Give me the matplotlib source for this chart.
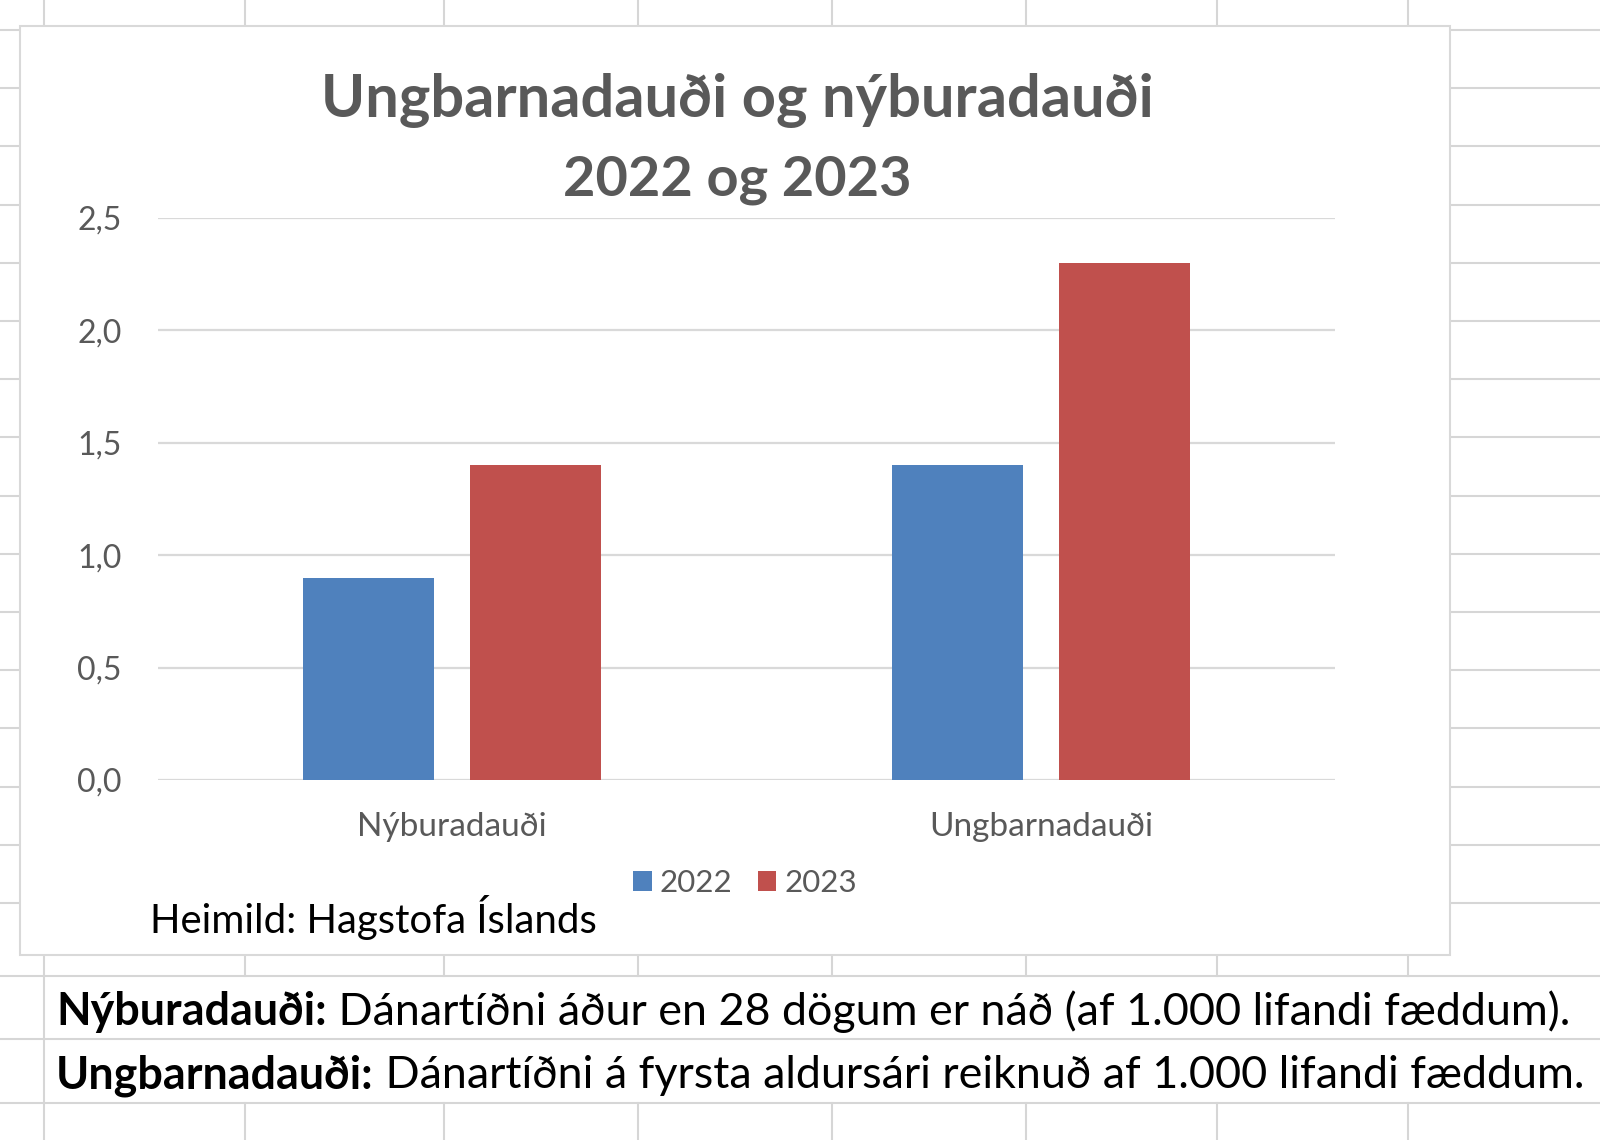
import numpy as np
import matplotlib
matplotlib.use('Agg')
import matplotlib.pyplot as plt
from matplotlib.patches import Rectangle

plt.rcParams['font.family'] = ['Lato', 'DejaVu Sans']

# data
categories = ['Nýburadauði', 'Ungbarnadauði']
years = ['2022', '2023']
values_2022 = [0.9, 1.4]
values_2023 = [1.4, 2.3]
yticks = [0.0, 0.5, 1.0, 1.5, 2.0, 2.5]
ytick_labels = ['0,0', '0,5', '1,0', '1,5', '2,0', '2,5']
bar_colors = ['#4F81BD', '#C0504D']
title_lines = ['Ungbarnadauði og nýburadauði', '2022 og 2023']
source = 'Heimild: Hagstofa Íslands'
note_terms = ['Nýburadauði:', 'Ungbarnadauði:']
note_texts = [' Dánartíðni áður en 28 dögum er náð (af 1.000 lifandi fæddum).',
              ' Dánartíðni á fyrsta aldursári reiknuð af 1.000 lifandi fæddum.']

W, H = 1600, 1140
fig = plt.figure(figsize=(16, 11.4), dpi=100)
fig.patch.set_facecolor('white')

# background "spreadsheet" in pixel coords
bg = fig.add_axes([0, 0, 1, 1])
bg.set_xlim(0, W)
bg.set_ylim(H, 0)
bg.axis('off')

cell_c = '#d6d6d6'
row_lines = list(30 + 58.2 * np.arange(16)) + [976, 1039, 1103]
col_lines = [44, 245, 444, 638, 832, 1026, 1217, 1408]
for y in row_lines:
    bg.plot([0, W], [y, y], color=cell_c, lw=1.5, zorder=1)
for x in col_lines:
    if x == 44:
        bg.plot([x, x], [0, H], color=cell_c, lw=1.5, zorder=1)
    else:
        bg.plot([x, x], [0, 976], color=cell_c, lw=1.5, zorder=1)
        bg.plot([x, x], [1103, H], color=cell_c, lw=1.5, zorder=1)

# chart area
bg.add_patch(Rectangle((20, 26), 1430, 929, facecolor='white',
                       edgecolor='#d9d9d9', lw=1.5, zorder=2))

ax = fig.add_axes([158 / W, (H - 780) / H, (1335 - 158) / W, (780 - 218) / H])
ax.set_zorder(3)
ax.patch.set_alpha(0)

x = np.arange(len(categories))
bw = 0.2226
off = 0.1416
b1 = ax.bar(x - off, values_2022, bw, color=bar_colors[0], label=years[0], zorder=3)
b2 = ax.bar(x + off, values_2023, bw, color=bar_colors[1], label=years[1], zorder=3)

ax.set_xlim(-0.5, 1.5)
ax.set_ylim(0, 2.5)
ax.set_yticks(yticks, ytick_labels)
ax.set_xticks(x, categories)
ax.yaxis.grid(True, color='#d9d9d9', lw=1.6)
ax.set_axisbelow(True)
for s in ax.spines.values():
    s.set_visible(False)
ax.tick_params(axis='y', length=0, pad=26, labelsize=23, labelcolor='#595959')
ax.tick_params(axis='x', length=0, pad=23, labelsize=24, labelcolor='#595959')

leg = ax.legend(loc='center', bbox_to_anchor=(745 / W, 1 - 883 / H),
                bbox_transform=fig.transFigure, ncol=2, frameon=False,
                fontsize=22.5, handlelength=0.6, handleheight=0.6,
                handletextpad=0.25, columnspacing=0.8, borderpad=0)
for t in leg.get_texts():
    t.set_color('#595959')

# texts
t1 = bg.text(737, 100, title_lines[0], ha='center', va='center',
             fontsize=40, fontweight='bold', color='#595959', zorder=4)
t2 = bg.text(737, 180, title_lines[1], ha='center', va='center',
             fontsize=40, fontweight='bold', color='#595959', zorder=4)
src = bg.text(150, 918, source, ha='left', va='center', fontsize=25,
              color='black', zorder=4)

fig.canvas.draw()
r = fig.canvas.get_renderer()

def fit(t, width_px):
    bb = t.get_window_extent(r)
    t.set_fontsize(t.get_fontsize() * width_px / bb.width)

fit(t1, 832)
fit(t2, 347)
fit(src, 447)

# notes below the chart
note_fs = 28
note_y = [1012, 1076]
terms, rests = [], []
for term, txt, y in zip(note_terms, note_texts, note_y):
    a = bg.text(56, y, term, ha='left', va='center', fontsize=note_fs,
                fontweight='bold', color='black', zorder=4)
    b = bg.text(0, y, txt, ha='left', va='center', fontsize=note_fs,
                color='black', zorder=4)
    terms.append(a)
    rests.append(b)
w0 = terms[0].get_window_extent(r).width + rests[0].get_window_extent(r).width
note_fs = note_fs * 1513 / w0
for a, b in zip(terms, rests):
    a.set_fontsize(note_fs)
    b.set_fontsize(note_fs)
    wa = a.get_window_extent(r).width
    b.set_x(56 + wa)

fig.savefig('out.png', dpi=100, facecolor='white')
